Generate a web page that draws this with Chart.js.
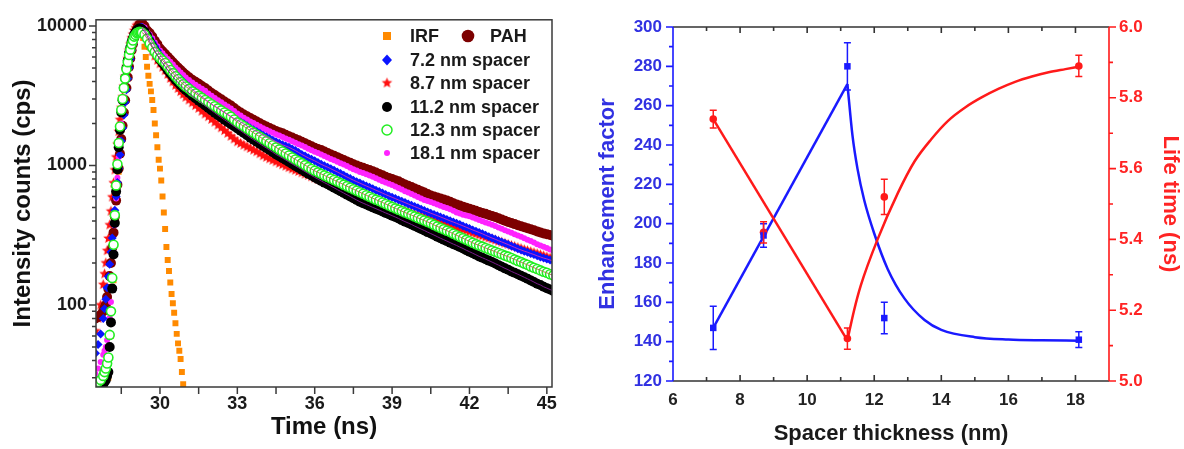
<!DOCTYPE html>
<html>
<head>
<meta charset="utf-8">
<script src="https://cdn.jsdelivr.net/npm/chart.js@4.4.1/dist/chart.umd.min.js"></script>
<style>
html,body{margin:0;padding:0;background:#ffffff;width:1184px;height:449px;overflow:hidden;}
#c1{position:absolute;left:0;top:0;}
#c2{position:absolute;left:580px;top:0;}
</style>
</head>
<body>
<canvas id="c1" width="570" height="449"></canvas>
<canvas id="c2" width="604" height="449"></canvas>
<script>
// ---------------- LEFT PANEL DATA (decay curves) ----------------
const timeNs = [27.5,27.6,27.7,27.8,27.85,27.9,27.95,28.0,28.05,28.1,28.15,28.2,28.25,28.3,28.35,28.4,28.45,28.5,28.55,28.6,
  28.65,28.7,28.75,28.8,28.85,28.9,28.95,29.0,29.05,29.1,29.15,29.2,29.25,29.3,
  29.4,29.5,29.6,29.7,29.8,29.9,30.0,30.1,30.2,30.3,30.4,30.5,30.6,30.7,30.8,30.9,31.0,
  31.125,31.25,31.375,31.5,31.625,31.75,31.875,32.0,
  32.125,32.25,32.375,32.5,32.625,32.75,32.875,33.0,
  33.125,33.25,33.375,33.5,33.625,33.75,33.875,34.0,
  34.125,34.25,34.375,34.5,34.625,34.75,34.875,35.0,
  35.125,35.25,35.375,35.5,35.625,35.75,35.875,36.0,
  36.125,36.25,36.375,36.5,36.625,36.75,36.875,37.0,
  37.125,37.25,37.375,37.5,37.625,37.75,37.875,38.0,
  38.125,38.25,38.375,38.5,38.625,38.75,38.875,39.0,
  39.125,39.25,39.375,39.5,39.625,39.75,39.875,40.0,
  40.125,40.25,40.375,40.5,40.625,40.75,40.875,41.0,
  41.125,41.25,41.375,41.5,41.625,41.75,41.875,42.0,
  42.125,42.25,42.375,42.5,42.625,42.75,42.875,43.0,
  43.125,43.25,43.375,43.5,43.625,43.75,43.875,44.0,
  44.125,44.25,44.375,44.5,44.625,44.75,44.875,45.0,
  45.125,45.25];

const pahCounts = [80,82,85,90,95,100,114,130,161,200,257,330,430,560,729,950,1213,1550,1929,2400,
  2939,3600,4285,5100,5846,6700,7412,8200,8780,9400,9792,10200,10400,10600,
  10000,9300,8900,8400,7850,7400,6900,6600,6300,6020,5750,5500,5250,5040,4840,4650,4470,
  4290,4120,3980,3850,3720,3590,3450,3310,
  3200,3090,2985,2880,2785,2690,2585,2480,
  2400,2320,2255,2190,2130,2070,2010,1950,
  1905,1860,1815,1770,1735,1700,1660,1620,
  1585,1550,1515,1480,1445,1410,1375,1340,
  1315,1290,1260,1230,1200,1175,1148,1120,
  1095,1070,1045,1020,1000,980,962,945,
  928,910,890,870,850,830,815,800,
  785,770,750,730,715,700,685,670,
  655,640,625,610,600,590,580,570,
  560,550,537,525,516,507,498,490,
  481,473,465,457,450,442,435,427,
  418,410,402,394,387,380,373,367,
  361,355,349,343,337,331,326,322,
  317,313];

const s72Counts = [45,52,62,80,94,110,133,160,196,240,302,380,477,600,755,950,1194,1500,1857,2300,
  2837,3500,4183,5000,5788,6700,7367,8100,8585,9100,9400,9700,9750,9800,
  9440,8810,8220,7670,7160,6680,6240,5900,5560,5280,5010,4790,4570,4370,4170,4010,3850,
  3680,3510,3375,3240,3115,2990,2870,2750,
  2660,2570,2485,2400,2320,2240,2175,2110,
  2050,1990,1925,1860,1805,1750,1700,1650,
  1605,1560,1520,1480,1445,1410,1380,1350,
  1315,1280,1240,1200,1168,1135,1108,1080,
  1050,1020,996,973,948,923,899,875,
  851,828,806,785,766,748,730,713,
  697,681,665,650,634,619,605,592,
  579,566,554,542,530,519,508,497,
  486,475,465,455,446,437,428,419,
  410,401,393,385,377,369,361,353,
  345,338,331,324,316,309,302,296,
  289,283,277,271,265,259,253,248,
  243,239,234,230,225,221,217,214,
  210,207];

const s87Counts = [65,80,100,140,167,200,245,300,375,470,594,750,929,1150,1419,1750,2133,2600,3100,3700,
  4344,5100,5845,6700,7413,8200,8730,9300,9690,10100,10300,10500,10200,9900,
  8910,7940,7240,6610,6100,5690,5370,5070,4790,4500,4220,3980,3760,3570,3390,3240,3090,
  2950,2820,2690,2570,2450,2340,2240,2140,
  2045,1950,1865,1780,1700,1620,1550,1480,
  1440,1400,1362,1326,1290,1256,1215,1175,
  1146,1118,1090,1064,1038,1013,989,966,
  945,925,906,887,868,850,831,813,
  796,780,764,748,732,716,700,684,
  670,657,644,631,618,606,594,582,
  572,562,552,543,534,525,516,507,
  498,490,481,473,465,457,449,442,
  434,427,419,412,405,398,391,385,
  378,372,365,359,353,347,341,335,
  329,324,318,313,307,302,297,292,
  287,282,277,272,267,263,258,254,
  249,245,241,237,233,229,225,221,
  217,214];

const s112Counts = [24,25,26,27,28,29,31,33,50,75,131,230,387,650,937,1350,1800,2400,2939,3600,
  4243,5000,5657,6400,7020,7700,8185,8700,8995,9300,9450,9600,9550,9500,
  9120,8510,7760,7160,6610,6170,5750,5430,5130,4840,4570,4340,4120,3940,3760,3610,3470,
  3310,3160,3040,2920,2805,2690,2585,2480,
  2385,2290,2210,2130,2055,1980,1910,1840,
  1775,1710,1648,1585,1532,1480,1430,1380,
  1335,1290,1245,1200,1165,1130,1095,1060,
  1026,993,963,933,904,875,848,822,
  799,776,754,733,712,692,672,653,
  635,617,600,582,566,550,537,525,
  513,501,490,479,468,457,447,437,
  427,417,406,396,387,378,368,359,
  350,342,333,325,317,309,301,294,
  287,280,273,267,260,254,247,241,
  235,229,223,218,213,208,203,198,
  193,188,183,179,174,170,166,162,
  158,154,150,146,142,139,135,132,
  129,126];

const s123Counts = [27,28,29,31,33,35,38,42,61,90,156,270,441,720,1022,1450,1904,2500,3000,3600,
  4200,4900,5512,6200,6774,7400,7884,8400,8646,8900,9000,9100,9050,9000,
  8710,8130,7500,7000,6530,6170,5890,5660,5430,5130,4840,4600,4370,4170,3980,3830,3690,
  3545,3400,3280,3160,3055,2950,2850,2750,
  2660,2570,2485,2400,2320,2240,2140,2040,
  1975,1910,1845,1780,1720,1660,1605,1550,
  1497,1445,1398,1350,1305,1260,1220,1180,
  1142,1105,1072,1040,1006,973,944,916,
  893,871,849,828,807,787,767,748,
  729,711,693,676,659,643,627,612,
  597,583,569,556,543,530,517,505,
  493,482,471,460,450,441,431,421,
  412,403,394,385,375,366,357,349,
  341,333,324,316,308,301,293,286,
  279,273,267,262,256,251,246,241,
  236,231,226,222,217,212,207,203,
  198,194,189,185,181,177,173,170,
  166,163];

const s181Counts = [32,35,39,44,47,50,56,62,81,105,159,240,373,580,817,1150,1517,2000,2490,3100,
  3693,4400,5095,5900,6563,7300,7877,8500,8891,9300,9546,9800,9875,9950,
  9770,9120,8710,8180,7620,7180,6680,6380,6080,5810,5550,5300,5050,4850,4650,4460,4270,
  4100,3940,3800,3670,3550,3430,3290,3160,
  3050,2940,2840,2740,2650,2560,2460,2360,
  2280,2200,2135,2070,2015,1960,1905,1850,
  1805,1760,1718,1675,1638,1600,1565,1530,
  1492,1455,1422,1390,1355,1320,1288,1255,
  1228,1200,1170,1140,1115,1090,1065,1040,
  1015,990,965,940,920,900,882,865,
  848,830,810,790,772,755,740,725,
  707,690,672,655,640,625,610,595,
  580,565,556,547,536,525,515,505,
  495,485,473,461,452,444,438,432,
  423,415,407,399,391,384,376,369,
  360,352,344,336,329,322,315,308,
  301,294,287,280,273,267,261,256,
  250,245];

const irfTimeNs = [28.0,28.1,28.2,28.3,28.4,28.5,28.6,28.7,28.8,28.9,29.0,29.1,29.2,
  29.25,29.3,29.35,29.4,29.45,29.5,29.55,29.6,29.65,29.7,29.75,29.8,29.85,29.9,29.95,30.0,
  30.05,30.1,30.15,30.2,30.25,30.3,30.35,30.4,30.45,30.5,30.55,30.6,30.65,30.7,30.75,30.8,30.85,30.9,30.95];
const irfCounts = [30,60,150,400,900,1800,3000,4500,6000,7300,8300,9000,9300,
  9350,9300,8200,7100,6000,5100,4400,3850,3400,2950,2500,2000,1650,1350,1100,950,
  780,600,460,350,260,210,175,145,120,103,88,74,62,53,47,41,33,27,24];

const timeTickLabels = [30,33,36,39,42,45];
const countTickLabels = [100,1000,10000];

// ---------------- RIGHT PANEL DATA ----------------
const spacerNm = [7.2, 8.7, 11.2, 12.3, 18.1];
const enhancement = [147, 194, 280, 152, 141];
const enhancementErr = [11, 6, 12, 8, 4];
const lifetimeNs = [5.74, 5.42, 5.12, 5.52, 5.89];
const lifetimeErr = [0.025, 0.03, 0.03, 0.05, 0.03];

const enhFitLineX = [7.2, 11.2];
const enhFitLineY = [147, 271];
const enhFitCurveX = [11.2, 11.35, 11.5, 11.7, 12.0, 12.4, 12.9, 13.5, 14.0, 15.0, 16.0, 17.0, 18.1];
const enhFitCurveY = [271, 245, 228, 212, 195, 177, 162, 151, 146, 142.3, 141.1, 140.7, 140.5];
const lifeFitLineX = [7.2, 11.2];
const lifeFitLineY = [5.74, 5.115];
const lifeFitCurveX = [11.2, 11.4, 11.6, 12.1, 12.7, 13.2, 13.7, 14.2, 14.7, 15.2, 15.7, 16.2, 16.7, 17.2, 17.7, 18.1];
const lifeFitCurveY = [5.115, 5.20, 5.27, 5.40, 5.53, 5.62, 5.683, 5.735, 5.772, 5.801, 5.825, 5.845, 5.86, 5.872, 5.881, 5.888];

const spacerTickLabels = [6, 8, 10, 12, 14, 16, 18];
const enhTickLabels = [120, 140, 160, 180, 200, 220, 240, 260, 280, 300];
const lifeTickLabels = [5.0, 5.2, 5.4, 5.6, 5.8, 6.0];

// ---------------- helpers ----------------
const FONT = "'Liberation Sans', Arial, Helvetica, sans-serif";
Chart.defaults.font.family = FONT;
const BLUE = '#1a1aff', BLUE_TXT = '#3131e2', RED = '#ff1a1a', RED_TXT = '#ff2424';
const C_PAH = '#7d0000', C_72 = '#0a14ff', C_87 = '#ff1010', C_112 = '#000000', C_123 = '#22ee22', C_181 = '#ff22ff', C_IRF = '#ff8a00';

function xy(xs, ys) { return xs.map((x, i) => ({ x: x, y: ys[i] })); }
function starImage(r, color) {
  const c = document.createElement('canvas');
  const s = Math.ceil(r * 2 + 2); c.width = s; c.height = s;
  const g = c.getContext('2d'); g.fillStyle = color; g.beginPath();
  for (let i = 0; i < 10; i++) {
    const a = -Math.PI / 2 + i * Math.PI / 5; const rr = (i % 2) ? r * 0.45 : r;
    g.lineTo(s / 2 + rr * Math.cos(a), s / 2 + rr * Math.sin(a));
  }
  g.closePath(); g.fill(); return c;
}
const starPt = starImage(5.5, C_87);
const bold = (size) => ({ family: FONT, size: size, weight: 'bold' });
const FIT_FROM = 33;
const noGrid = { display: false, drawTicks: false };

// ---------------- LEFT CHART ----------------
const leftFrame = {
  id: 'leftFrame',
  afterDatasetsDraw(chart) {
    const { ctx, chartArea: a } = chart; const xs = chart.scales.x, ys = chart.scales.y;
    ctx.save();
    ctx.lineWidth = 1.5; ctx.strokeStyle = '#3a3a3a';
    ctx.strokeRect(a.left, a.top, a.right - a.left, a.bottom - a.top);
    ctx.beginPath();
    for (let v = 28.5; v <= 45.01; v += 1.5) {
      const p = xs.getPixelForValue(v); ctx.moveTo(p, a.bottom); ctx.lineTo(p, a.bottom + 7);
    }
    for (let e = 1; e <= 4; e++) for (let k = 1; k <= 9; k++) {
      const v = k * Math.pow(10, e); if (v < ys.min || v > ys.max) continue;
      const p = ys.getPixelForValue(v); ctx.moveTo(a.left, p); ctx.lineTo(a.left - (k === 1 ? 7 : 4), p);
    }
    ctx.stroke();
    ctx.restore();
  },
  afterDraw(chart) {
    const ctx = chart.ctx;
    ctx.save();
    const rows = [
      { m: 'square', c: C_IRF, x: 387, y: 36, t: 'IRF', tx: 410 },
      { m: 'bigcircle', c: C_PAH, x: 468, y: 36, t: 'PAH', tx: 490 },
      { m: 'diamond', c: C_72, x: 387, y: 60, t: '7.2 nm spacer', tx: 410 },
      { m: 'star', c: C_87, x: 387, y: 83, t: '8.7 nm spacer', tx: 410 },
      { m: 'circle', c: C_112, x: 387, y: 107, t: '11.2 nm spacer', tx: 410 },
      { m: 'open', c: C_123, x: 387, y: 130, t: '12.3 nm spacer', tx: 410 },
      { m: 'dot', c: C_181, x: 387, y: 153, t: '18.1 nm spacer', tx: 410 }
    ];
    rows.forEach(r => {
      ctx.fillStyle = r.c; ctx.strokeStyle = r.c; ctx.beginPath();
      if (r.m === 'square') { ctx.fillRect(r.x - 4, r.y - 4, 8, 8); }
      else if (r.m === 'bigcircle') { ctx.arc(r.x, r.y, 6.3, 0, Math.PI * 2); ctx.fill(); }
      else if (r.m === 'diamond') { ctx.moveTo(r.x, r.y - 5.5); ctx.lineTo(r.x + 5, r.y); ctx.lineTo(r.x, r.y + 5.5); ctx.lineTo(r.x - 5, r.y); ctx.closePath(); ctx.fill(); }
      else if (r.m === 'star') { ctx.drawImage(starPt, r.x - starPt.width / 2, r.y - starPt.height / 2); }
      else if (r.m === 'circle') { ctx.arc(r.x, r.y, 5, 0, Math.PI * 2); ctx.fill(); }
      else if (r.m === 'open') { ctx.lineWidth = 1.5; ctx.arc(r.x, r.y, 5, 0, Math.PI * 2); ctx.stroke(); }
      else if (r.m === 'dot') { ctx.arc(r.x, r.y, 3, 0, Math.PI * 2); ctx.fill(); }
      ctx.fillStyle = '#1a1a1a'; ctx.font = 'bold 18px ' + FONT; ctx.textBaseline = 'middle'; ctx.textAlign = 'left';
      ctx.fillText(r.t, r.tx, r.y + 1);
    });
    ctx.restore();
  }
};

function pointSet(label, xs, ys, style, radius, fill, stroke, bw, order) {
  return { label: label, data: xy(xs, ys), pointStyle: style, pointRadius: radius,
    pointBackgroundColor: fill, pointBorderColor: stroke, pointBorderWidth: bw,
    backgroundColor: fill, borderColor: stroke, showLine: false, order: order, clip: 0 };
}
function fitSet(xs, ys, color, order) {
  return { type: 'line', data: xy(xs.slice(FIT_FROM), ys.slice(FIT_FROM)), showLine: true, pointRadius: 0,
    borderColor: color, borderWidth: 1, tension: 0, order: order, clip: 0 };
}

new Chart(document.getElementById('c1'), {
  type: 'scatter',
  data: {
    datasets: [
      pointSet('IRF', irfTimeNs, irfCounts, 'rect', 4.2, C_IRF, C_IRF, 0, 9),
      pointSet('8.7 nm spacer', timeNs, s87Counts, starPt, 5.5, C_87, C_87, 0, 8),
      pointSet('PAH', timeNs, pahCounts, 'circle', 5, C_PAH, C_PAH, 0, 7),
      pointSet('18.1 nm spacer', timeNs, s181Counts, 'circle', 3, C_181, C_181, 0, 6),
      pointSet('7.2 nm spacer', timeNs, s72Counts, 'rectRot', 4.5, C_72, C_72, 0, 5),
      pointSet('11.2 nm spacer', timeNs, s112Counts, 'circle', 5, C_112, C_112, 0, 4),
      pointSet('12.3 nm spacer', timeNs, s123Counts, 'circle', 4.5, '#ffffff', C_123, 1.6, 3),
      fitSet(timeNs, s72Counts, '#c030c0', 1),
      fitSet(timeNs, s112Counts, '#7a1a8a', 1),
      fitSet(timeNs, s123Counts, '#a8844a', 1)
    ]
  },
  options: {
    responsive: false, animation: false, devicePixelRatio: 1,
    layout: { padding: { top: 18, right: 18, left: 0, bottom: 0 } },
    plugins: { legend: { display: false }, tooltip: { enabled: false } },
    events: [],
    scales: {
      x: {
        type: 'linear', min: 27.52, max: 45.2,
        grid: noGrid, border: { display: false },
        afterBuildTicks: s => { s.ticks = timeTickLabels.map(v => ({ value: v })); },
        afterFit: s => { s.height = 62; },
        ticks: { font: bold(18), color: '#1a1a1a', padding: 6, maxRotation: 0, autoSkip: false, callback: v => String(v) },
        title: { display: true, text: 'Time (ns)', font: bold(24), color: '#111', padding: { top: 0, bottom: 7 } }
      },
      y: {
        type: 'logarithmic', min: 25.8, max: 11090,
        grid: noGrid, border: { display: false },
        afterBuildTicks: s => { s.ticks = countTickLabels.map(v => ({ value: v })); },
        afterFit: s => { s.width = 96; },
        ticks: { font: bold(18), color: '#1a1a1a', padding: 9, autoSkip: false, callback: v => String(v) },
        title: { display: true, text: 'Intensity counts (cps)', font: bold(24), color: '#111', padding: { top: 9, bottom: 0 } }
      }
    }
  },
  plugins: [leftFrame]
});

// ---------------- RIGHT CHART ----------------
const rightFrame = {
  id: 'rightFrame',
  afterDatasetsDraw(chart) {
    const { ctx, chartArea: a } = chart; const x = chart.scales.x, yL = chart.scales.yL, yR = chart.scales.yR;
    ctx.save();
    const bars = (ys, es, scale, color) => {
      ctx.strokeStyle = color; ctx.lineWidth = 1.5; ctx.beginPath();
      spacerNm.forEach((v, i) => {
        const px = x.getPixelForValue(v);
        const top = scale.getPixelForValue(ys[i] + es[i]), bot = scale.getPixelForValue(ys[i] - es[i]);
        ctx.moveTo(px, top); ctx.lineTo(px, bot);
        ctx.moveTo(px - 3.5, top); ctx.lineTo(px + 3.5, top);
        ctx.moveTo(px - 3.5, bot); ctx.lineTo(px + 3.5, bot);
      });
      ctx.stroke();
    };
    bars(enhancement, enhancementErr, yL, BLUE);
    bars(lifetimeNs, lifetimeErr, yR, RED);
    ctx.lineWidth = 1.6; ctx.strokeStyle = '#333'; ctx.beginPath();
    ctx.moveTo(a.left, a.top); ctx.lineTo(a.right, a.top);
    ctx.moveTo(a.left, a.bottom); ctx.lineTo(a.right, a.bottom);
    for (let v = 7; v <= 18; v++) {
      const p = x.getPixelForValue(v); const L = (v % 2 === 0) ? 6 : 4;
      ctx.moveTo(p, a.bottom); ctx.lineTo(p, a.bottom - L);
      ctx.moveTo(p, a.top); ctx.lineTo(p, a.top + L);
    }
    ctx.stroke();
    ctx.strokeStyle = BLUE; ctx.beginPath();
    ctx.moveTo(a.left, a.top); ctx.lineTo(a.left, a.bottom);
    for (let v = 120; v <= 300; v += 10) {
      const p = yL.getPixelForValue(v); const L = (v % 20 === 0) ? 7 : 4;
      ctx.moveTo(a.left, p); ctx.lineTo(a.left - L, p);
    }
    ctx.stroke();
    ctx.strokeStyle = RED; ctx.beginPath();
    ctx.moveTo(a.right, a.top); ctx.lineTo(a.right, a.bottom);
    for (let i = 0; i <= 10; i++) {
      const p = yR.getPixelForValue(5 + i * 0.1); const L = (i % 2 === 0) ? 7 : 4;
      ctx.moveTo(a.right, p); ctx.lineTo(a.right + L, p);
    }
    ctx.stroke();
    ctx.restore();
  }
};

new Chart(document.getElementById('c2'), {
  type: 'scatter',
  data: {
    datasets: [
      { label: 'Enhancement factor', data: xy(spacerNm, enhancement), yAxisID: 'yL', pointStyle: 'rect', pointRadius: 4.6,
        pointBackgroundColor: BLUE, pointBorderColor: BLUE, backgroundColor: BLUE, borderColor: BLUE, pointBorderWidth: 0, order: 0 },
      { label: 'Life time', data: xy(spacerNm, lifetimeNs), yAxisID: 'yR', pointStyle: 'circle', pointRadius: 3.8,
        pointBackgroundColor: RED, pointBorderColor: RED, backgroundColor: RED, borderColor: RED, pointBorderWidth: 0, order: 0 },
      { type: 'line', data: xy(enhFitLineX, enhFitLineY), yAxisID: 'yL', showLine: true, pointRadius: 0, borderColor: BLUE, borderWidth: 2.5, tension: 0, order: 2 },
      { type: 'line', data: xy(enhFitCurveX, enhFitCurveY), yAxisID: 'yL', showLine: true, pointRadius: 0, borderColor: BLUE, borderWidth: 2.5, cubicInterpolationMode: 'monotone', order: 2 },
      { type: 'line', data: xy(lifeFitLineX, lifeFitLineY), yAxisID: 'yR', showLine: true, pointRadius: 0, borderColor: RED, borderWidth: 2.5, tension: 0, order: 1 },
      { type: 'line', data: xy(lifeFitCurveX, lifeFitCurveY), yAxisID: 'yR', showLine: true, pointRadius: 0, borderColor: RED, borderWidth: 2.5, cubicInterpolationMode: 'monotone', order: 1 }
    ]
  },
  options: {
    responsive: false, animation: false, devicePixelRatio: 1,
    layout: { padding: { top: 27, right: 0, left: 0, bottom: 0 } },
    plugins: { legend: { display: false }, tooltip: { enabled: false } },
    events: [],
    scales: {
      x: {
        type: 'linear', position: 'bottom', min: 6, max: 19,
        grid: noGrid, border: { display: false },
        afterBuildTicks: s => { s.ticks = spacerTickLabels.map(v => ({ value: v })); },
        afterFit: s => { s.height = 68; },
        ticks: { font: bold(17), color: '#222', padding: 9, maxRotation: 0, autoSkip: false, callback: v => String(v) },
        title: { display: true, text: 'Spacer thickness (nm)', font: bold(22), color: '#1a1a1a', padding: { top: 0, bottom: 2 } }
      },
      yL: {
        type: 'linear', position: 'left', min: 120, max: 300,
        grid: noGrid, border: { display: false },
        afterBuildTicks: s => { s.ticks = enhTickLabels.map(v => ({ value: v })); },
        afterFit: s => { s.width = 93; },
        ticks: { font: bold(17), color: BLUE_TXT, padding: 11, autoSkip: false, callback: v => String(v) },
        title: { display: true, text: 'Enhancement factor', font: bold(22), color: BLUE_TXT, padding: { top: 15, bottom: 0 } }
      },
      yR: {
        type: 'linear', position: 'right', min: 5, max: 6,
        grid: noGrid, border: { display: false },
        afterBuildTicks: s => { s.ticks = lifeTickLabels.map(v => ({ value: v })); },
        afterFit: s => { s.width = 75; },
        ticks: { font: bold(17), color: RED_TXT, padding: 10, autoSkip: false, callback: v => Number(v).toFixed(1) },
        title: { display: true, text: 'Life time (ns)', font: bold(22), color: RED_TXT, padding: { top: 1, bottom: 0 } }
      }
    }
  },
  plugins: [rightFrame]
});
</script>
</body>
</html>
